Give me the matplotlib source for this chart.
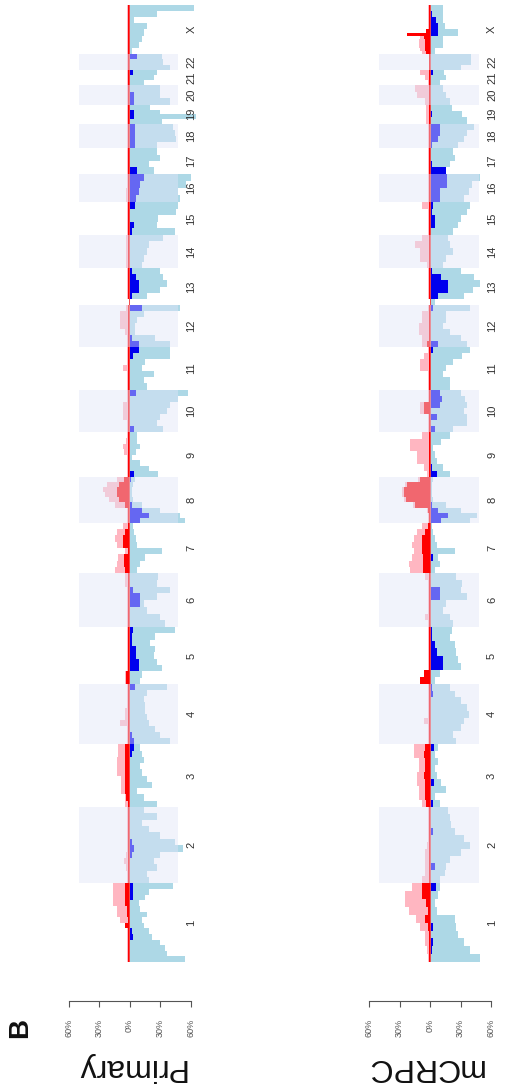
import matplotlib
matplotlib.use("Agg")
import matplotlib.pyplot as plt
import numpy as np

plt.rcParams['font.family'] = ['Liberation Sans', 'DejaVu Sans']

chrom_names = ['1','2','3','4','5','6','7','8','9','10','11','12','13','14','15','16','17','18','19','20','21','22','X']
chrom_len = [249,243,198,191,181,171,159,146,141,136,135,134,115,107,103,90,81,78,59,63,48,51,155]

# ---------------- Primary ----------------
prim_loss = [
 [55,37,35,30,22,19,14,12,17,10,9,15,19,43],
 [19,17,27,24,30,53,45,30,19,12,27,14],
 [27,14,7,22,17,12,10,14,12,10],
 [40,30,25,19,17,15,15,14,17,37],
 [10,12,32,27,24,25,20,25,45],
 [35,30,17,14,27,40,27,28],
 [7,10,15,32,7,6,4,3],
 [55,50,30,12,3,2,2,3,5],
 [28,19,10,2,6,10,7,7],
 [33,27,30,37,40,48,58],
 [17,14,24,12,15,40,40],
 [40,25,5,5,7,14,50],
 [0,17,30,37,33,30],
 [12,14,17,19,33],
 [45,27,28,46,48],
 [50,48,56,60],
 [24,19,30,27],
 [27,46,45,43],
 [32,66,30,20],
 [40,30,30],
 [14,24,27],
 [40,33,32],
 [2,9,12,14,17,4,27,63],
]
prim_deep = [
 [0,0,0,0,3,2,0,0,0,0,0,3,3,3],
 [0,0,0,0,2,4,2,0,0,0,0,0],
 [0,0,0,0,0,0,0,0,2,4],
 [4,2,0,0,0,0,0,0,0,5],
 [0,0,9,9,6,6,2,2,3],
 [0,0,0,10,10,3,0,0],
 [0,0,0,0,0,0,0,0],
 [10,19,12,2,0,0,0,0,1],
 [4,0,0,0,0,0,0,0],
 [4,0,0,0,0,0,6],
 [0,0,0,0,0,3,9],
 [9,2,0,0,0,0,12],
 [0,2,9,9,6,2],
 [0,0,0,0,0],
 [2,4,0,0,5],
 [6,9,10,14],
 [7,0,0,0],
 [5,5,5,5],
 [0,4,4,0],
 [4,4,0],
 [0,0,3],
 [0,0,7],
 [0,0,0,0,0,0,0,0],
]
prim_gain = [
 [2,2,2,2,2,2,2,9,12,12,16,16,16,16],
 [2,2,3,5,3,2,2,2,2,2,2,2],
 [4,4,8,8,8,12,12,12,11,11],
 [2,2,2,9,4,4,2,2,2,2],
 [4,4,2,2,2,2,2,2,2],
 [2,2,2,2,2,2,4,4],
 [14,12,11,4,12,14,12,6],
 [2,2,2,14,20,24,26,22,12],
 [2,2,2,2,5,6,3,2],
 [2,2,6,6,6,2,2],
 [2,2,2,6,2,2,2],
 [2,2,4,9,9,9,3],
 [0,2,2,2,2,2],
 [3,3,3,3,3],
 [2,2,2,2,2],
 [3,3,2,2],
 [2,2,2,2],
 [2,2,2,2],
 [2,2,2,2],
 [2,2,2],
 [2,2,2],
 [2,2,2],
 [2,2,2,2,2,2,2,2],
]
prim_amp = [
 [1,1,1,1,1,1,4,1,2,2,4,4,4,4],
 [1,1,1,1,1,1,1,1,1,1,1,1],
 [1,3,4,4,4,4,4,4,4,4],
 [1,1,1,1,1,1,1,1,1,1],
 [3,3,1,1,1,1,1,1,1],
 [1,1,1,1,1,1,1,1],
 [4,5,5,1,6,6,4,1],
 [1,1,1,4,10,12,12,10,5],
 [1,1,1,1,1,1,1,1],
 [1,1,1,1,1,1,1],
 [1,1,1,1,1,1,1],
 [1,1,1,1,1,1,1],
 [0,1,1,1,1,1],
 [1,1,1,1,1],
 [1,1,1,1,1],
 [1,1,1,1],
 [1,1,1,1],
 [1,1,1,1],
 [1,1,1,1],
 [1,1,1],
 [1,1,1],
 [1,1,1],
 [1,1,1,1,1,1,1,1],
]

# ---------------- mCRPC ----------------
mc_loss = [
 [49,39,33,28,26,25,7,5,8,10],
 [10,15,16,20,30,39,33,25,21,20,18],
 [10,5,16,11,7,5,8,5,8],
 [26,23,30,33,38,36,30,25,20],
 [5,10,30,28,26,25,20,22],
 [23,20,13,16,36,30,31,26],
 [5,10,8,25,7,5,3,2],
 [39,46,30,16,3,2,2,2,3],
 [20,13,7,5,3,11,20],
 [23,36,36,33,36,34,30],
 [20,20,13,16,23,31,39],
 [36,30,20,13,16,16,39],
 [5,33,42,49,43,30],
 [13,16,23,20,18],
 [23,28,30,36,39],
 [33,38,41,49],
 [13,20,25,23],
 [28,33,36,43],
 [36,31,22],
 [20,16,13],
 [10,16,14],
 [30,40,40],
 [5,13,13,28,15,13,13,13],
]
mc_deep = [
 [0,2,3,0,3,0,0,0,0,6],
 [0,0,5,0,0,0,0,3,0,0,0],
 [3,0,0,4,0,0,0,0,4],
 [0,0,0,0,0,0,0,3,2],
 [0,0,13,13,7,5,2,2],
 [0,0,0,0,10,10,0,0],
 [0,0,3,0,0,0,0,0],
 [11,18,8,2,0,0,0,0,0],
 [7,2,0,0,0,0,0],
 [5,0,7,0,10,12,10],
 [0,0,0,0,0,0,3],
 [8,0,0,0,0,0,3],
 [0,8,18,18,11,2],
 [0,0,0,0,0],
 [0,5,5,2,3],
 [10,10,17,17],
 [16,2,0,0],
 [2,8,10,10],
 [0,2,0],
 [0,0,0],
 [0,0,3],
 [0,0,0],
 [0,0,0,8,8,6,2,0],
]
mc_gain = [
 [2,3,5,5,10,14,21,25,25,18],
 [8,5,5,5,5,3,2,2,2,2,2],
 [8,11,11,13,13,11,11,16,16],
 [2,2,2,6,2,2,2,2,2],
 [10,6,2,2,2,2,2,2],
 [2,5,2,2,2,2,2,5],
 [20,21,18,16,18,16,13,8],
 [2,2,3,17,26,28,28,25,12],
 [3,6,13,13,20,20,8],
 [2,2,2,10,10,2,2],
 [2,2,2,10,10,6,2],
 [8,8,11,11,8,8,2],
 [0,2,2,2,2,2],
 [3,10,10,15,8],
 [2,2,2,2,8],
 [2,2,2,2],
 [2,2,2,2],
 [2,2,2,2],
 [4,4,4],
 [5,13,15],
 [2,5,10],
 [1,1,1],
 [8,10,11,11,11,10,23,4,2,2,2,2,2,2,2,2],
]
mc_amp = [
 [1,1,1,1,2,5,2,4,8,8],
 [1,1,1,1,1,1,1,1,1,1,1],
 [4,5,5,5,6,5,5,6,5],
 [1,1,1,1,1,1,1,1,1],
 [10,6,1,1,1,1,1,1],
 [1,1,1,1,1,1,1,1],
 [7,7,7,8,8,8,5,2],
 [1,1,2,15,24,26,26,23,10],
 [1,1,1,1,1,1,1],
 [1,1,1,6,6,1,1],
 [1,1,1,1,1,1,1],
 [3,1,1,1,1,1,1],
 [0,1,1,1,1,1],
 [1,1,1,1,1],
 [1,1,1,1,1],
 [1,1,1,1],
 [1,1,1,1],
 [1,1,1,1],
 [1,1,1],
 [1,1,1],
 [1,1,1],
 [1,1,1],
 [4,5,5,5,5,6,23,4,1,1,1,1,1,1,1,1],
]

tick_vals = [-60, -30, 0, 30, 60]
tick_labels = ['60%', '30%', '0%', '30%', '60%']

C_LOSS = '#ADD8E6'
C_DEEP = '#0000EE'
C_GAIN = '#FFB6C1'
C_AMP = '#FF0000'
C_SHADE = '#E2E5F8'

W, H = 530, 1089
fig = plt.figure(figsize=(W/100, H/100), dpi=100)

starts = np.concatenate([[0], np.cumsum(chrom_len)[:-1]])
total = float(np.sum(chrom_len))

def draw_layer(ax, layer, sign, color, z):
    for i, vals in enumerate(layer):
        n = len(vals)
        w = chrom_len[i] / n
        ys = starts[i] + w * np.arange(n)
        ax.barh(ys, sign * np.array(vals, dtype=float), height=w, left=0,
                align='edge', color=color, linewidth=0, zorder=z)

def panel(x0_px, loss, deep, gain, amp):
    px_per = 61.0 / 60.0
    left_px = x0_px - 65 * px_per
    wid_px = 130 * px_per
    y_bot = 962
    y_top = 5
    ax = fig.add_axes([left_px / W, (H - y_bot) / H, wid_px / W, (y_bot - y_top) / H])
    ax.set_xlim(-65, 65)
    ax.set_ylim(0, total)
    ax.axis('off')
    draw_layer(ax, loss, 1, C_LOSS, 1)
    draw_layer(ax, gain, -1, C_GAIN, 1)
    draw_layer(ax, deep, 1, C_DEEP, 2)
    draw_layer(ax, amp, -1, C_AMP, 2)
    ax.axvline(-0.3, color='#F04848', lw=0.7, zorder=2.5)
    for i in range(len(chrom_len)):
        if (i + 1) % 2 == 0 and chrom_names[i] != 'X':
            ax.fill_betweenx([starts[i], starts[i] + chrom_len[i]], -50, 48,
                             color=C_SHADE, alpha=0.45, linewidth=0, zorder=3)
        ax.text(61, starts[i] + chrom_len[i] / 2, chrom_names[i], rotation=90,
                ha='center', va='center', fontsize=8, color='#333333', clip_on=False)
    # frequency scale
    axt = fig.add_axes([left_px / W, (H - 1001) / H, wid_px / W, 0.0005])
    axt.set_xlim(-65, 65)
    axt.patch.set_visible(False)
    for s in ['top', 'left', 'right']:
        axt.spines[s].set_visible(False)
    axt.spines['bottom'].set_bounds(-60, 60)
    axt.spines['bottom'].set_color('#555555')
    axt.spines['bottom'].set_linewidth(0.8)
    axt.set_yticks([])
    axt.set_xticks(tick_vals)
    axt.set_xticklabels(tick_labels, rotation=90, fontsize=6.5, color='#555555')
    axt.tick_params(axis='x', length=4, width=0.8, color='#555555', pad=9)
    return ax

panel(129.5, prim_loss, prim_deep, prim_gain, prim_amp)
panel(430.0, mc_loss, mc_deep, mc_gain, mc_amp)

fig.text(130 / W, 1 - 1067 / H, 'Primary', rotation=180, ha='center', va='center', fontsize=23, color='#111111')
fig.text(424 / W, 1 - 1067 / H, 'mCRPC', rotation=180, ha='center', va='center', fontsize=23, color='#111111')
fig.text(20 / W, 1 - 1028 / H, 'B', rotation=90, ha='center', va='center', fontsize=20, fontweight='bold', color='#111111')

fig.savefig('out.png', dpi=100)
